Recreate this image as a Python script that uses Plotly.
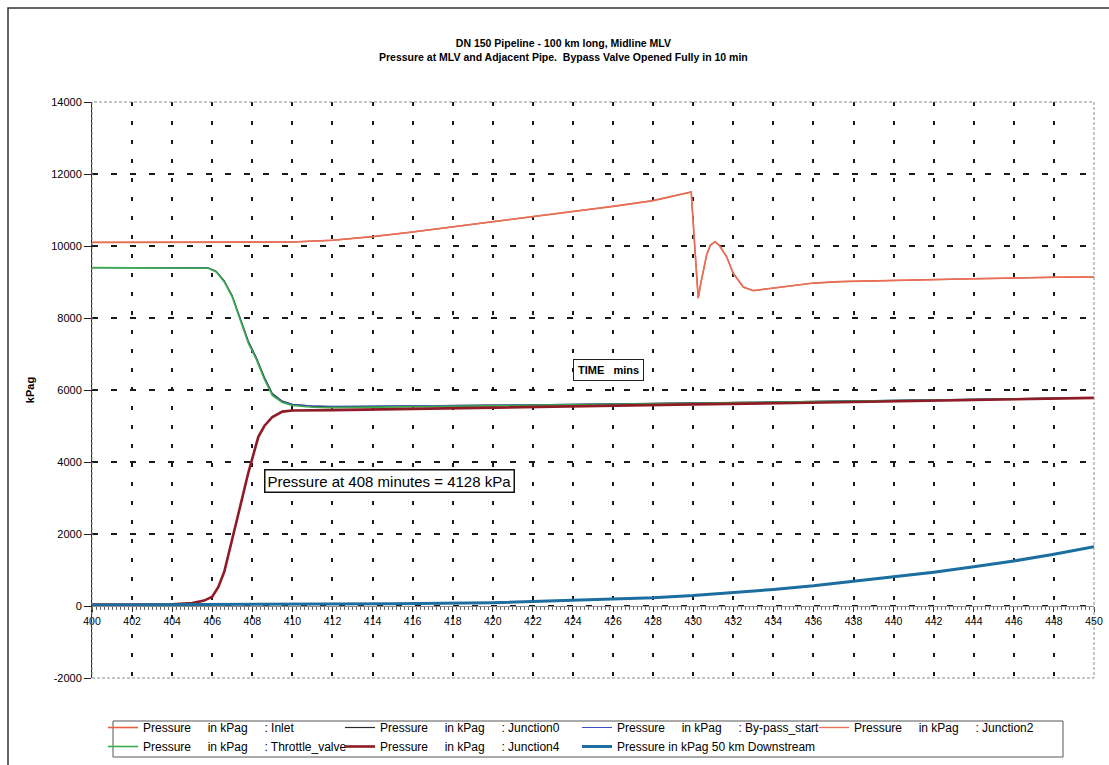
import plotly.graph_objects as go

# ---- data (time in minutes, pressure in kPag) ----
t_inlet = [400, 406, 410, 412, 414, 416, 418, 420, 422, 424, 426, 428, 429.9,
           430.1, 430.25, 430.38, 430.5, 430.67, 430.85, 431.09, 431.3, 431.67,
           431.99, 432.5, 433.0, 434, 436, 437.3, 440, 444, 448, 450]
p_inlet = [10100, 10100, 10110, 10160, 10260, 10390, 10530, 10670, 10810, 10950,
           11100, 11260, 11500,
           9800, 8550, 8970, 9330, 9750, 10020, 10120, 10020, 9700,
           9250, 8860, 8760, 8830, 8970, 9010, 9050, 9090, 9130, 9140]

t_junction2 = t_inlet
p_junction2 = [10100, 10100, 10110, 10160, 10260, 10390, 10530, 10670, 10810, 10950,
               11100, 11260, 11500,
               9800, 8550, 8970, 9330, 9750, 10020, 10120, 10020, 9700,
               9250, 8860, 8760, 8830, 8970, 9010, 9050, 9090, 9130, 9140]

t_up = [400, 405, 405.8, 406.2, 406.6, 407.0, 407.4, 407.8, 408.2, 408.6, 409.0,
        409.5, 410, 411, 412, 416, 420, 430, 440, 450]
p_throttle = [9400, 9400, 9380, 9280, 9000, 8580, 7950, 7300, 6850, 6300, 5850,
              5650, 5570, 5520, 5510, 5530, 5560, 5630, 5700, 5780]
p_junction0 = [9400, 9400, 9390, 9300, 9030, 8620, 8000, 7360, 6900, 6360, 5900,
               5690, 5600, 5550, 5530, 5550, 5570, 5640, 5710, 5790]
p_bypass = [9400, 9400, 9390, 9290, 9020, 8600, 7980, 7330, 6880, 6330, 5880,
            5680, 5600, 5560, 5550, 5560, 5580, 5640, 5710, 5790]

t_junction4 = [400, 404, 405, 405.6, 406.0, 406.3, 406.6, 407.0, 407.4, 407.8, 408.0,
               408.3, 408.6, 409.0, 409.5, 410, 412, 416, 420, 425, 430, 435, 440,
               445, 450]
p_junction4 = [40, 50, 80, 150, 260, 520, 950, 1830, 2780, 3700, 4128,
               4700, 5000, 5250, 5400, 5430, 5440, 5480, 5520, 5560, 5600, 5640, 5680,
               5730, 5780]

t_down = [400, 405, 410, 415, 420, 424, 428, 430, 432, 434, 436, 438, 440, 442,
          444, 446, 448, 450]
p_down = [30, 35, 45, 60, 90, 150, 230, 290, 370, 460, 560, 680, 800, 940,
          1090, 1250, 1440, 1650]

x_ticks = list(range(400, 451, 2))
y_ticks = list(range(-2000, 14001, 2000))
y_tick_text = [str(v) for v in y_ticks]

# ---- layout geometry (pixels) ----
W, H = 1109, 765
L, R, T, B = 92, 15, 102, 87
PW, PH = W - L - R, H - T - B


def px(x):
    return (x - L) / PW


def py(y):
    return (H - B - y) / PH


NB = "\u00a0"


def lbl(name):
    return "Pressure" + NB * 5 + "in kPag" + NB * 5 + ": " + name


FONT = "Liberation Sans, Arial, sans-serif"

series = [
    (t_inlet, p_inlet, lbl("Inlet"), "#e4603e", 1.6),
    (t_up, p_junction0, lbl("Junction0"), "#2a2a2a", 1.2),
    (t_up, p_bypass, lbl("By-pass_start"), "#3c4cc4", 1.0),
    (t_junction2, p_junction2, lbl("Junction2"), "#e8705a", 1.4),
    (t_up, p_throttle, lbl("Throttle_valve"), "#3aae4e", 1.6),
    (t_junction4, p_junction4, lbl("Junction4"), "#8e1b25", 2.6),
    (t_down, p_down, "Pressure in kPag 50 km Downstream", "#1b6e9f", 3.0),
]

fig = go.Figure()
for tx, pv, name, color, width in series:
    fig.add_trace(go.Scatter(x=tx, y=pv, mode="lines", name=name,
                             line=dict(color=color, width=width)))

fig.update_layout(
    width=W, height=H,
    margin=dict(l=L, r=R, t=T, b=B, autoexpand=False),
    paper_bgcolor="white", plot_bgcolor="white",
    font=dict(family=FONT, color="black", size=11),
    showlegend=True,
    legend=dict(orientation="h", x=px(103), y=py(713), xanchor="left", yanchor="top",
                entrywidth=192, entrywidthmode="pixels",
                bgcolor="rgba(0,0,0,0)", borderwidth=0,
                font=dict(size=12, family=FONT), traceorder="normal"),
    xaxis=dict(range=[400, 450], tickvals=x_ticks, ticktext=[str(v) for v in x_ticks],
               anchor="free", position=2000 / 16000,
               showline=True, linecolor="#8a8a8a", linewidth=1,
               ticks="outside", ticklen=5, tickcolor="#333", tickwidth=1,
               minor=dict(dtick=0.2, ticks="outside", ticklen=3, tickcolor="#666",
                          showgrid=False),
               showgrid=True, gridcolor="#1a1a1a", gridwidth=1.5, griddash="4px,15px",
               zeroline=False, tickfont=dict(size=10.5)),
    yaxis=dict(range=[-2000, 14000], tickvals=y_ticks, ticktext=y_tick_text,
               showline=True, linecolor="#222", linewidth=1,
               ticks="outside", ticklen=7, tickcolor="#222",
               showgrid=True, gridcolor="#1a1a1a", gridwidth=1.5, griddash="6px,13px",
               zeroline=False, tickfont=dict(size=11),
               title=dict(text="<b>kPag</b>", font=dict(size=11), standoff=14)),
)

# plot-area frame (top, right, bottom)
fig.add_shape(type="rect", xref="paper", yref="paper", x0=0, x1=1, y0=0, y1=1,
              line=dict(color="#8a8a8a", width=1, dash="3px,2px"), layer="above")
# outer chart border
fig.add_shape(type="rect", xref="paper", yref="paper",
              x0=px(8), x1=px(1125), y0=py(780), y1=py(8),
              line=dict(color="#333", width=1.5))
# legend box
fig.add_shape(type="rect", xref="paper", yref="paper",
              x0=px(113), x1=px(1063), y0=py(757), y1=py(721),
              line=dict(color="#555", width=1))

# title
fig.add_annotation(xref="paper", yref="paper", x=px(563), y=py(50),
                   xanchor="center", yanchor="middle",
                   text="<b>DN 150 Pipeline - 100 km long, Midline MLV</b><br>"
                        "<b>Pressure at MLV and Adjacent Pipe." + NB * 2 +
                        "Bypass Valve Opened Fully in 10 min</b>",
                   showarrow=False, font=dict(size=10.5), align="center")

# in-plot labels
fig.add_annotation(x=425.75, y=6556, text="<b>TIME" + NB * 3 + "mins</b>",
                   showarrow=False, font=dict(size=11), bgcolor="white",
                   bordercolor="#222", borderwidth=1, borderpad=4)
fig.add_annotation(x=414.87, y=3472, text="Pressure at 408 minutes = 4128 kPa",
                   showarrow=False, font=dict(size=15), bgcolor="white",
                   bordercolor="#111", borderwidth=1.5, borderpad=2)

fig.write_html("out.html")
